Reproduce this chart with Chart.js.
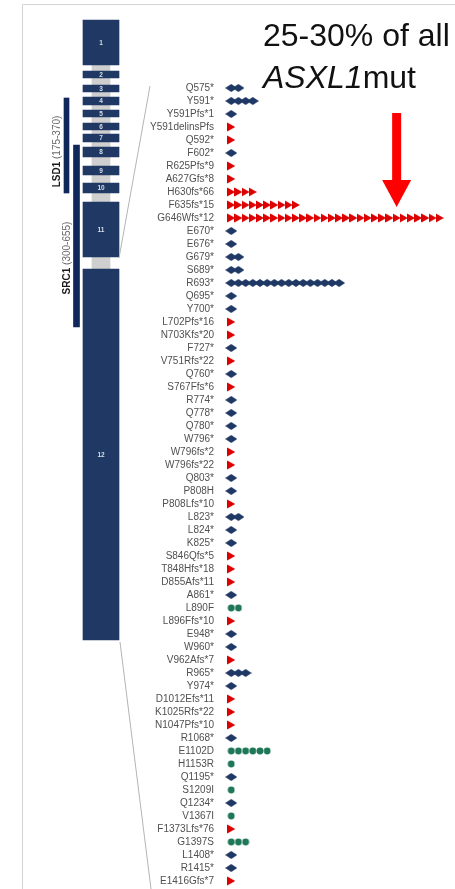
<!DOCTYPE html>
<html>
<head>
<meta charset="utf-8">
<script src="https://cdn.jsdelivr.net/npm/chart.js@4.4.1/dist/chart.umd.min.js"></script>
<style>
  html, body { margin: 0; padding: 0; background: #fff; }
  #wrap { position: relative; width: 455px; height: 889px; overflow: hidden; }
  #wrap canvas { position: absolute; top: 0; left: 0; }
</style>
</head>
<body>
<div id="wrap">
  <canvas id="geneMap" width="160" height="889"></canvas>
  <canvas id="mutationPlot" width="455" height="889"></canvas>
</div>
<script>
// ASXL1 variants, one row each, N = nonsense, F = frameshift, M = missense
const mutations = [
  "Q575*", "Y591*", "Y591Pfs*1", "Y591delinsPfs", "Q592*", "F602*", "R625Pfs*9", "A627Gfs*8",
  "H630fs*66", "F635fs*15", "G646Wfs*12", "E670*", "E676*", "G679*", "S689*", "R693*",
  "Q695*", "Y700*", "L702Pfs*16", "N703Kfs*20", "F727*", "V751Rfs*22", "Q760*", "S767Ffs*6",
  "R774*", "Q778*", "Q780*", "W796*", "W796fs*2", "W796fs*22", "Q803*", "P808H",
  "P808Lfs*10", "L823*", "L824*", "K825*", "S846Qfs*5", "T848Hfs*18", "D855Afs*11", "A861*",
  "L890F", "L896Ffs*10", "E948*", "W960*", "V962Afs*7", "R965*", "Y974*", "D1012Efs*11",
  "K1025Rfs*22", "N1047Pfs*10", "R1068*", "E1102D", "H1153R", "Q1195*", "S1209I", "Q1234*",
  "V1367I", "F1373Lfs*76", "G1397S", "L1408*", "R1415*", "E1416Gfs*7"
];
const mutationTypes = [
  "N", "N", "N", "F", "F", "N", "F", "F",
  "F", "F", "F", "N", "N", "N", "N", "N",
  "N", "N", "F", "F", "N", "F", "N", "F",
  "N", "N", "N", "N", "F", "F", "N", "N",
  "F", "N", "N", "N", "F", "F", "F", "N",
  "M", "F", "N", "N", "F", "N", "N", "F",
  "F", "F", "N", "M", "M", "N", "M", "N",
  "M", "F", "M", "N", "N", "F"
];
const patientCounts = [
  2, 4, 1, 1, 1, 1, 1, 1,
  4, 10, 30, 1, 1, 2, 2, 16,
  1, 1, 1, 1, 1, 1, 1, 1,
  1, 1, 1, 1, 1, 1, 1, 1,
  1, 2, 1, 1, 1, 1, 1, 1,
  2, 1, 1, 1, 1, 3, 1, 1,
  1, 1, 1, 6, 1, 1, 1, 1,
  1, 1, 3, 1, 1, 1
];

// gene map: exons and domains along the transcript (diagram units)
const exonLabels = ["1", "2", "3", "4", "5", "6", "7", "8", "9", "10", "11", "12"];
const exonStart = [20, 71, 85, 97, 110, 123, 134, 147, 166, 183, 202, 269];
const exonEnd = [65, 78, 92, 105, 117, 130, 142, 157, 175, 193, 257, 640];
const intronSpan = [65, 269];
const domainNames = ["LSD1", "SRC1"];
const domainRanges = ["(175-370)", "(300-655)"];
const domainStart = [98, 145];
const domainEnd = [193, 327];

const annotationLines = ["25-30% of all", "ASXL1", "mut"];

const navy = "#1f3864";
const red = "#dc0000";
const green = "#1e7858";

// ---------- marker glyphs ----------
function glyph(w, h, paint) {
  const c = document.createElement("canvas");
  c.width = w; c.height = h;
  paint(c.getContext("2d"));
  return c;
}
const diamond = glyph(12, 8, g => {
  g.fillStyle = navy;
  g.beginPath(); g.moveTo(0, 4); g.lineTo(6, 0); g.lineTo(12, 4); g.lineTo(6, 8); g.closePath(); g.fill();
});
const triangle = glyph(8, 10, g => {
  g.fillStyle = red;
  g.beginPath(); g.moveTo(0, 0.5); g.lineTo(8, 5); g.lineTo(0, 9.5); g.closePath(); g.fill();
});
const dot = glyph(8, 8, g => {
  g.fillStyle = green;
  g.beginPath(); g.arc(4, 4, 3.4, 0, Math.PI * 2); g.fill();
});

const typeStyle = {
  N: { label: "Nonsense", glyph: diamond },
  F: { label: "Frameshift", glyph: triangle },
  M: { label: "Missense", glyph: dot }
};

function pointsFor(code) {
  const pts = [];
  mutations.forEach((m, i) => {
    if (mutationTypes[i] !== code) return;
    for (let n = 1; n <= patientCounts[i]; n++) pts.push({ x: n, y: m });
  });
  return pts;
}

// ---------- gene map ----------
const lane = { gene: 101, lsd1: 66.5, src1: 76.5 };

const geneLabels = {
  id: "geneLabels",
  afterDatasetsDraw(chart) {
    const ctx = chart.ctx;
    const xs = chart.scales.x, ys = chart.scales.y;
    const exons = chart.getDatasetMeta(0).data;

    // zoom lines towards the variant list
    const e11 = exons[10], e12 = exons[11];
    ctx.save();
    ctx.strokeStyle = "#b4b4b4";
    ctx.lineWidth = 1;
    ctx.beginPath();
    ctx.moveTo(e11.x + 18, Math.max(e11.y, e11.base) + 1);
    ctx.lineTo(xs.getPixelForValue(150), ys.getPixelForValue(86));
    ctx.moveTo(e12.x + 19, Math.max(e12.y, e12.base) + 2);
    ctx.lineTo(xs.getPixelForValue(151), ys.getPixelForValue(889));
    ctx.stroke();

    // exon numbers
    ctx.fillStyle = "#d9dee8";
    ctx.font = "bold 6.5px 'Liberation Sans'";
    ctx.textAlign = "center";
    ctx.textBaseline = "middle";
    exons.forEach((bar, i) => {
      ctx.fillText(exonLabels[i], bar.x, (bar.y + bar.base) / 2 + 0.5);
    });

    // domain captions, rotated alongside their bars
    const shift = [6, 22];
    [1, 2].forEach((di, k) => {
      const bar = chart.getDatasetMeta(di).data[0];
      const cy = (bar.y + bar.base) / 2 + shift[k];
      ctx.save();
      ctx.translate(bar.x - 9.5, cy);
      ctx.rotate(-Math.PI / 2);
      ctx.textBaseline = "middle";
      ctx.font = "bold 10px 'Liberation Sans'";
      const w1 = ctx.measureText(domainNames[k] + " ").width;
      ctx.font = "10px 'Liberation Sans'";
      const w2 = ctx.measureText(domainRanges[k]).width;
      const x0 = -(w1 + w2) / 2;
      ctx.textAlign = "left";
      ctx.font = "bold 10px 'Liberation Sans'";
      ctx.fillStyle = "#1a1a1a";
      ctx.fillText(domainNames[k], x0, 0);
      ctx.font = "10px 'Liberation Sans'";
      ctx.fillStyle = "#6a6a6a";
      ctx.fillText(domainRanges[k], x0 + w1, 0);
      ctx.restore();
    });
    ctx.restore();
  }
};

new Chart(document.getElementById("geneMap"), {
  type: "bar",
  data: {
    datasets: [
      {
        label: "Exons",
        data: exonStart.map((s, i) => ({ x: lane.gene, y: [s, exonEnd[i]] })),
        backgroundColor: navy, barThickness: 36, grouped: false, order: 0
      },
      {
        label: domainNames[0],
        data: [{ x: lane.lsd1, y: [domainStart[0], domainEnd[0]] }],
        backgroundColor: "#10275a", barThickness: 5, grouped: false, order: 0
      },
      {
        label: domainNames[1],
        data: [{ x: lane.src1, y: [domainStart[1], domainEnd[1]] }],
        backgroundColor: "#10275a", barThickness: 6, grouped: false, order: 0
      },
      {
        label: "Introns",
        data: [{ x: lane.gene, y: intronSpan }],
        backgroundColor: "#cfcfcf", barThickness: 18, grouped: false, order: 1
      }
    ]
  },
  options: {
    responsive: false,
    animation: false,
    events: [],
    layout: { padding: 0 },
    plugins: { legend: { display: false }, tooltip: { enabled: false } },
    scales: {
      x: { type: "linear", display: false, min: 0, max: 160, offset: false },
      y: { type: "linear", display: false, min: 0, max: 889, reverse: true, beginAtZero: false }
    }
  },
  plugins: [geneLabels]
});

// ---------- variant lollipop ----------
const frameAndNote = {
  id: "frameAndNote",
  afterDraw(chart) {
    const ctx = chart.ctx;
    const xs = chart.scales.x, ys = chart.scales.y;
    ctx.save();

    // light frame
    ctx.strokeStyle = "#d4d4d4";
    ctx.lineWidth = 1;
    ctx.beginPath();
    ctx.moveTo(22.5, 889);
    ctx.lineTo(22.5, 4.5);
    ctx.lineTo(455, 4.5);
    ctx.stroke();

    // note
    ctx.fillStyle = "#111";
    ctx.textAlign = "left";
    ctx.textBaseline = "alphabetic";
    ctx.font = "32px 'Liberation Sans'";
    ctx.fillText(annotationLines[0], 263, 46);
    ctx.font = "italic 32px 'Liberation Sans'";
    ctx.fillText(annotationLines[1], 263, 88);
    const w = ctx.measureText(annotationLines[1]).width;
    ctx.font = "32px 'Liberation Sans'";
    ctx.fillText(annotationLines[2], 263 + w, 88);

    // arrow onto the hotspot row
    const ax = xs.getPixelForValue(24);
    const tip = ys.getPixelForValue("G646Wfs*12") - 11;
    ctx.fillStyle = "#ff0000";
    ctx.fillRect(ax - 4.5, tip - 94, 9, 68);
    ctx.beginPath();
    ctx.moveTo(ax - 14.5, tip - 27);
    ctx.lineTo(ax + 14.5, tip - 27);
    ctx.lineTo(ax, tip);
    ctx.closePath();
    ctx.fill();
    ctx.restore();
  }
};

new Chart(document.getElementById("mutationPlot"), {
  type: "scatter",
  data: {
    labels: mutations,
    datasets: ["N", "F", "M"].map(code => ({
      label: typeStyle[code].label,
      data: pointsFor(code),
      pointStyle: typeStyle[code].glyph,
      pointRadius: 4,
      clip: false
    }))
  },
  options: {
    responsive: false,
    animation: false,
    events: [],
    layout: { padding: { top: 88, bottom: 5, left: 0, right: 8 } },
    plugins: { legend: { display: false }, tooltip: { enabled: false } },
    scales: {
      x: { type: "linear", display: false, min: 0, max: 31 },
      y: {
        type: "category",
        labels: mutations,
        offset: false,
        grid: { display: false },
        border: { display: false },
        ticks: {
          autoSkip: false,
          padding: 2,
          color: "#505050",
          font: { family: "'Liberation Sans'", size: 10 }
        },
        afterFit(scale) { scale.width = 224; }
      }
    }
  },
  plugins: [frameAndNote]
});
</script>
</body>
</html>
